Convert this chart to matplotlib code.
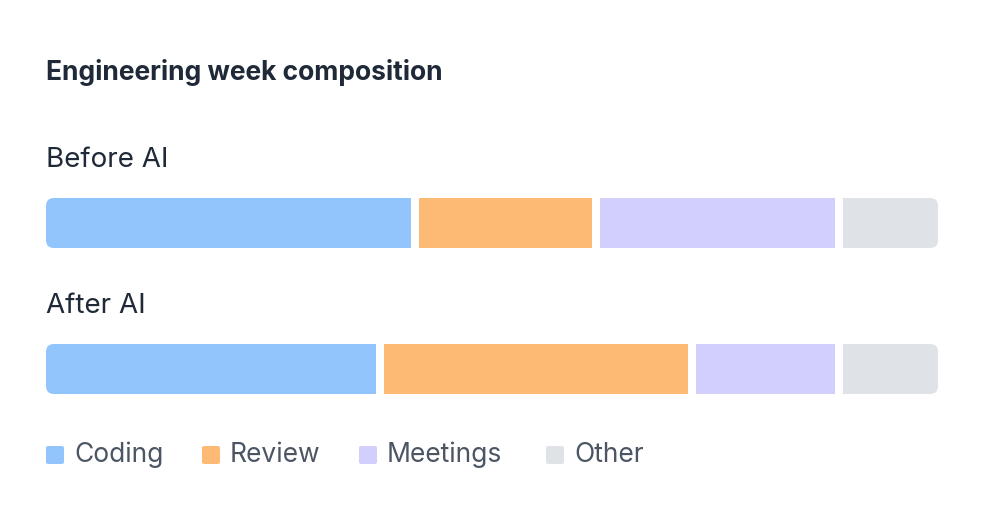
import matplotlib
matplotlib.use("Agg")
import matplotlib.pyplot as plt
from matplotlib.patches import FancyBboxPatch, Rectangle

categories = ["Coding", "Review", "Meetings", "Other"]
rows = ["Before AI", "After AI"]
before = [42, 20, 27, 11]
after = [38, 35, 16, 11]
values = [before, after]
colors = ["#93c5fd", "#fdba74", "#d3cffd", "#dfe3e8"]

plt.rcParams['font.family'] = ['Inter', 'DejaVu Sans']
W, H = 984, 520
fig = plt.figure(figsize=(W/100, H/100), dpi=100)
x0, x1 = 46, 938
gap = 8 * 100 / (x1 - x0 - 24)
total = 100 + 3 * gap
ax = fig.add_axes([x0/W, 0, (x1-x0)/W, 1])
ax.set_xlim(0, total)
ax.set_ylim(H, 0)
ax.axis("off")

ux = total / (x1 - x0)  # x data units per px
bar_tops = [198, 344]
bh = 50
for r, (lab, vals) in enumerate(zip(rows, values)):
    yc = bar_tops[r] + bh/2
    left = 0
    clip = FancyBboxPatch((0, bar_tops[r]), total, bh,
                          boxstyle=f"round,pad=0,rounding_size={8*ux}",
                          mutation_aspect=1/ux, transform=ax.transData,
                          facecolor="none", edgecolor="none")
    ax.add_patch(clip)
    for v, c in zip(vals, colors):
        bars = ax.barh(yc, v, left=left, height=bh, color=c, linewidth=0)
        for b in bars:
            b.set_clip_path(clip)
        left += v + gap
    fig.text(x0/W, 1 - (bar_tops[r] - 38)/H, lab, fontsize=20, color="#1f2937", va="center")

fig.text(x0/W, 1 - 72/H, "Engineering week composition", fontsize=19, fontweight="bold",
         color="#1f2937", va="center")

lx = [46, 202, 359, 546]
for x, cat, c in zip(lx, categories, colors):
    fig.patches.append(FancyBboxPatch((x/W, 1-464/H), 18/W, 18/H,
                       boxstyle="round,pad=0,rounding_size=0.003", transform=fig.transFigure,
                       facecolor=c, edgecolor="none"))
    fig.text((x+28)/W, 1-455/H, cat, fontsize=19, color="#4b5563", va="center")

fig.savefig("out.png", dpi=100, facecolor="white")
